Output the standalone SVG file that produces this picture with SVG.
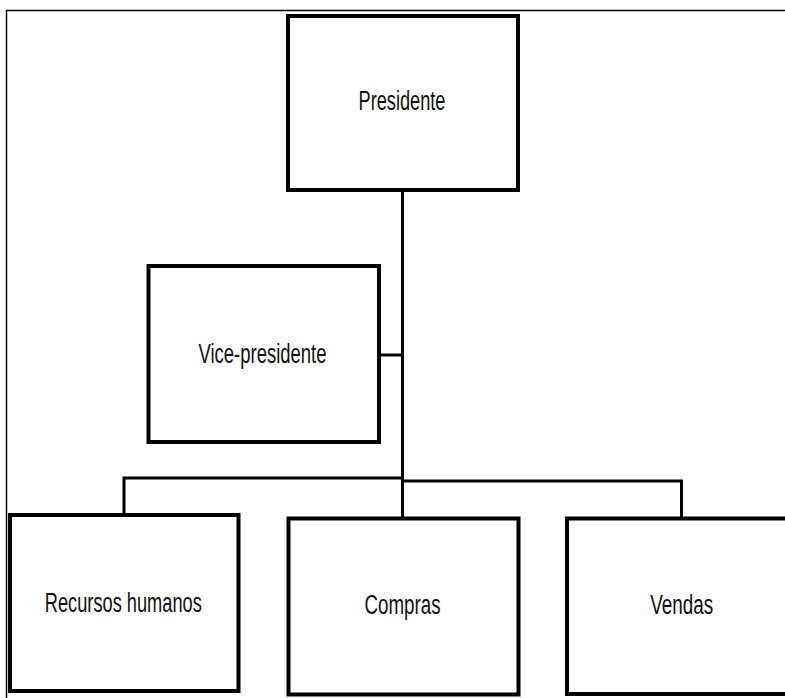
<svg xmlns="http://www.w3.org/2000/svg" width="785" height="698" viewBox="0 0 785 698">
<style>
.box{fill:#fff;stroke:#000;stroke-width:4}
.lbl{font-family:"Liberation Sans",Arial,sans-serif;font-size:27px;fill:#111;text-anchor:middle}
.con{fill:none;stroke:#000;stroke-width:3}
.frame{fill:none;stroke:#000;stroke-width:1.5}
</style>
<rect width="785" height="698" fill="#fff"/>
<path class="frame" d="M6.5 698 V10.5 H785"/>
<g id="connectors">
<path class="con" d="M402.5 190 V481"/>
<path class="con" d="M379 355 H402.5"/>
<path class="con" d="M124 515 V478 H402.5"/>
<path class="con" d="M402.5 481 H681.5 V518.5"/>
<path class="con" d="M402.5 478 V518.5"/>
</g>
<g id="presidente">
<rect class="box" x="288" y="16" width="230" height="174"/>
<text class="lbl" x="402" y="110" textLength="87" lengthAdjust="spacingAndGlyphs">Presidente</text>
</g>
<g id="vice-presidente">
<rect class="box" x="148.5" y="266" width="230.5" height="176"/>
<text class="lbl" x="262.5" y="363" textLength="128" lengthAdjust="spacingAndGlyphs">Vice-presidente</text>
</g>
<g id="recursos-humanos">
<rect class="box" x="10" y="515" width="228.5" height="176"/>
<text class="lbl" x="123.3" y="612" textLength="157" lengthAdjust="spacingAndGlyphs">Recursos humanos</text>
</g>
<g id="compras">
<rect class="box" x="288.5" y="518.5" width="230" height="176"/>
<text class="lbl" x="402.5" y="614" textLength="76" lengthAdjust="spacingAndGlyphs">Compras</text>
</g>
<g id="vendas">
<rect class="box" x="567" y="518.5" width="240" height="175.5"/>
<text class="lbl" x="681.7" y="614" textLength="63" lengthAdjust="spacingAndGlyphs">Vendas</text>
</g>
</svg>
